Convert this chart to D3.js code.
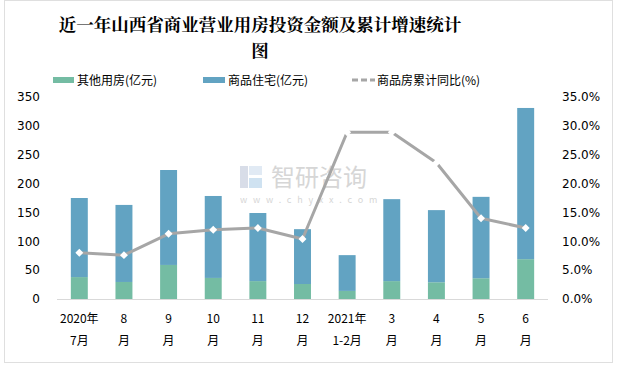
<!DOCTYPE html>
<html><head><meta charset="utf-8">
<script src="https://cdn.jsdelivr.net/npm/d3@7/dist/d3.min.js"></script>
<style>body{margin:0;background:#fff}svg{display:block;font-family:"Noto Sans CJK SC","Microsoft YaHei",sans-serif}</style>
</head><body>
<svg id="c" width="619" height="367"></svg>
<script>
const categories = ["2020年\n7月","8\n月","9\n月","10\n月","11\n月","12\n月","2021年\n1-2月","3\n月","4\n月","5\n月","6\n月"];
const otherUse = [38, 29.5, 59, 36.5, 31, 26, 14, 31, 29, 36, 69];
const residential = [137, 133.5, 164.5, 142, 118, 95, 62, 142, 125, 141, 262];
const cumGrowth = [8.0, 7.6, 11.3, 12.0, 12.3, 10.4, 28.9, 28.9, 23.6, 14.0, 12.3];
const leftTicks = [0,50,100,150,200,250,300,350];
const rightTicks = [0,5,10,15,20,25,30,35];
const title = ["近一年山西省商业营业用房投资金额及累计增速统计","图"];
const legendLabels = ["其他用房(亿元)","商品住宅(亿元)","商品房累计同比(%)"];

const C_GREEN="#74bca3", C_BLUE="#62a3c2", C_LINE="#a6a6a6";
const svg=d3.select("#c");
svg.append("rect").attr("x",4.5).attr("y",0.5).attr("width",608).attr("height",362).attr("fill","#fff").attr("stroke","#bfbfbf").attr("stroke-dasharray","1,1");

const L=57,R=548,T=97,B=299;
const x=d3.scaleBand().domain(categories).range([L,R]).paddingInner(0.62).paddingOuter(0.31);
const yL=d3.scaleLinear().domain([0,350]).range([B,T]);
const yR=d3.scaleLinear().domain([0,35]).range([B,T]);

// title
title.forEach((t,i)=>svg.append("text").attr("x",260).attr("y",31+i*26).attr("text-anchor","middle")
  .attr("font-size",17.5).attr("font-weight","bold").attr("font-family","'Noto Serif CJK SC','Noto Sans CJK SC',serif").attr("fill","#000").text(t));

// watermark
const wm=svg.append("g").attr("opacity",0.55);
wm.append("rect").attr("x",240).attr("y",166).attr("width",8).attr("height",22).attr("fill","#b9c3d6");
wm.append("rect").attr("x",249).attr("y",166).attr("width",13).attr("height",9).attr("fill","#c9d9ec");
wm.append("rect").attr("x",249).attr("y",178).attr("width",13).attr("height",10).attr("fill","#a9cbe6");
wm.append("text").attr("x",271).attr("y",186).attr("font-size",24).attr("fill","#b5b5b5").text("智研咨询");
wm.append("text").attr("x",240).attr("y",203).attr("font-size",9).attr("letter-spacing","5.8px").attr("fill","#b5b5b5").text("www.chyxx.com");

// bars
const stack=d3.stack().keys(["o","r"])(categories.map((c,i)=>({c,o:otherUse[i],r:residential[i]})));
const cols=[C_GREEN,C_BLUE];
stack.forEach((s,k)=>{
  svg.append("g").selectAll("rect").data(s).join("rect")
    .attr("x",d=>x(d.data.c)).attr("width",x.bandwidth())
    .attr("y",d=>yL(d[1])).attr("height",d=>yL(d[0])-yL(d[1])).attr("fill",cols[k]);
});

// axis line
svg.append("line").attr("x1",L).attr("x2",R).attr("y1",B+0.5).attr("y2",B+0.5).attr("stroke","#d9d9d9");

// left axis
const ga=svg.append("g").attr("transform",`translate(${L},0)`).call(d3.axisLeft(yL).tickValues(leftTicks).tickSize(0).tickPadding(17));
ga.select(".domain").remove();
ga.selectAll("text").attr("font-size",12).attr("fill","#000").attr("font-family","'DejaVu Sans',sans-serif");
const gr=svg.append("g").attr("transform",`translate(${R},0)`).call(d3.axisRight(yR).tickValues(rightTicks).tickSize(0).tickPadding(14).tickFormat(d=>d.toFixed(1)+"%"));
gr.select(".domain").remove();
gr.selectAll("text").attr("font-size",12).attr("fill","#000").attr("font-family","'DejaVu Sans',sans-serif");

// x labels
categories.forEach(c=>{
  const lines=c.split("\n");
  lines.forEach((l,i)=>svg.append("text").attr("x",x(c)+x.bandwidth()/2).attr("y",323+i*22).attr("text-anchor","middle")
    .attr("font-size",12).attr("fill","#000").text(l));
});

// line
const cx=(d,i)=>x(categories[i])+x.bandwidth()/2;
svg.append("path").datum(cumGrowth).attr("fill","none").attr("stroke",C_LINE).attr("stroke-width",3).attr("stroke-linejoin","round")
  .attr("d",d3.line().x(cx).y(d=>yR(d)));
svg.append("g").selectAll("path").data(cumGrowth).join("path")
  .attr("transform",(d,i)=>`translate(${cx(d,i)},${yR(d)})`)
  .attr("d",d3.symbol(d3.symbolDiamond2,40)).attr("fill","#fff");

// legend
const lg=svg.append("g");
lg.append("rect").attr("x",53).attr("y",77).attr("width",21).attr("height",6).attr("fill",C_GREEN);
lg.append("text").attr("x",77).attr("y",85).attr("font-size",12).text(legendLabels[0]);
lg.append("rect").attr("x",203).attr("y",77).attr("width",22).attr("height",6).attr("fill",C_BLUE);
lg.append("text").attr("x",228).attr("y",85).attr("font-size",12).text(legendLabels[1]);
lg.append("line").attr("x1",352).attr("x2",375).attr("y1",80).attr("y2",80).attr("stroke",C_LINE).attr("stroke-width",3).attr("stroke-dasharray","6,3");
lg.append("text").attr("x",377).attr("y",85).attr("font-size",12).text(legendLabels[2]);
</script>
</body></html>
